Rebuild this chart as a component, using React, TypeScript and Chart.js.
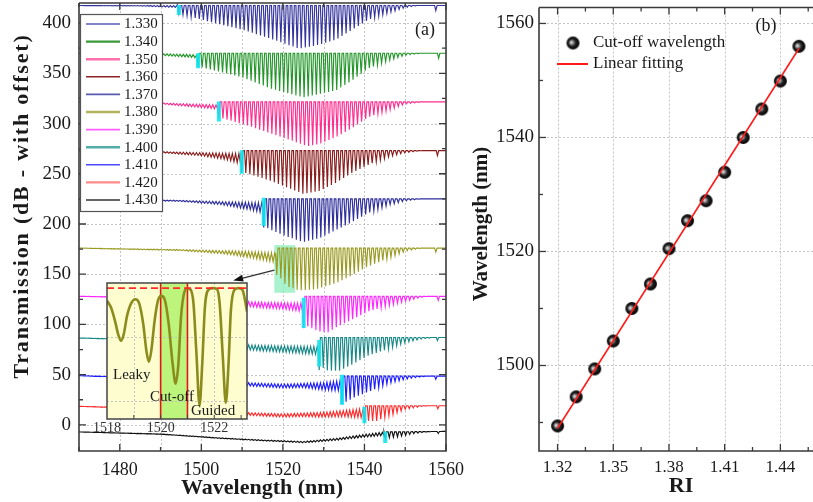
import React, { useEffect, useRef } from 'react';
import { Chart, registerables } from 'chart.js';

Chart.register(...registerables);

const SERIF = '"Liberation Serif", "Times New Roman", Times, serif';

// ---------------- Panel (a) data ----------------
const RI_A = ['1.330', '1.340', '1.350', '1.360', '1.370', '1.380', '1.390', '1.400', '1.410', '1.420', '1.430'];
const COLORS_A = ['#34349e', '#23962a', '#ff2d8f', '#8a1c1c', '#2e2e9c', '#9a9a22', '#ff26ff', '#178888', '#1c1cff', '#ff2a2a', '#111111'];
const LEGEND_COLORS_A = ['#5a5ab8', '#3a9a3a', '#ff6fae', '#8b2525', '#5a5ab0', '#b3b35e', '#ff5cff', '#55aaaa', '#4a4aff', '#ff8a8a', '#333333'];
// wavelength (nm) where the deep guided-mode dips start, per spectrum
const CUTOFF_A = [1494.5, 1499.2, 1504.3, 1509.9, 1515.3, 1518.5, 1525.1, 1528.9, 1534.5, 1540.0, 1545.1];
// upper envelope of each spectrum: [wavelength, dB]
const TOP_A = [
  [[1470, 417.5], [1560, 417.5]],
  [[1470, 370], [1490, 369.5], [1499, 368.5], [1499.3, 370], [1560, 370]],
  [[1470, 321.5], [1490, 320.5], [1504, 318.5], [1504.4, 321.5], [1560, 321.5]],
  [[1470, 273], [1490, 272], [1509.5, 270], [1510, 273], [1560, 273]],
  [[1470, 225], [1495, 223.5], [1515, 221], [1515.4, 225], [1560, 225]],
  [[1470, 176], [1495, 174.5], [1510, 173], [1518.3, 171], [1518.6, 176], [1560, 176]],
  [[1470, 128], [1490, 127], [1505, 124], [1515, 122], [1525, 121], [1525.2, 128], [1560, 128]],
  [[1470, 86.5], [1490, 85], [1505, 81], [1515, 79], [1528.8, 78], [1529, 87], [1560, 87]],
  [[1470, 49], [1490, 47], [1505, 43], [1520, 40.5], [1530, 42], [1534.4, 44], [1534.6, 48.5], [1560, 48.5]],
  [[1470, 18.5], [1490, 16.5], [1505, 13], [1520, 11], [1530, 12.5], [1539.9, 16], [1540.1, 19], [1560, 19]],
  [[1470, -7], [1490, -9], [1505, -13], [1515, -15], [1525, -16.5], [1533, -13.5], [1540, -9.5], [1545, -7], [1560, -6.5]],
];
// depth (dB) of the small leaky-mode ripple before the cut-off
const RIPPLE_A = [
  [[1470, 0], [1485, 0.5], [1494.5, 2]],
  [[1470, 0], [1485, 0.7], [1499, 3]],
  [[1470, 0], [1490, 1], [1504, 4]],
  [[1470, 0], [1490, 1], [1500, 3], [1506, 6], [1509.9, 10]],
  [[1470, 0], [1495, 1], [1505, 3], [1512, 7], [1515.3, 10]],
  [[1470, 0], [1495, 1], [1505, 3], [1512, 6], [1518.5, 9]],
  [[1470, 0], [1490, 1], [1505, 4], [1520, 6], [1525, 8]],
  [[1470, 0], [1490, 1.5], [1505, 4], [1520, 6], [1529, 8]],
  [[1470, 0], [1490, 1.5], [1510, 3], [1525, 4], [1530, 7], [1534.5, 10]],
  [[1470, 0], [1490, 1], [1510, 2.5], [1525, 3.5], [1535, 6], [1540, 9]],
  [[1470, 0], [1500, 0.5], [1520, 1], [1535, 2], [1545, 3.5]],
];
// depth (dB) of the guided-mode dips after the cut-off
const DIPS_A = [
  [[1494.5, 8], [1500, 14], [1510, 24], [1517, 33], [1524, 43], [1529, 39], [1533, 34], [1537, 24], [1541, 14], [1546, 7], [1550, 2], [1553, 0]],
  [[1499, 13], [1510, 24], [1517, 35], [1525, 44], [1533, 37], [1537, 27], [1541, 15], [1546, 7], [1550, 2], [1554, 0]],
  [[1504, 15], [1511, 23], [1519, 34], [1526, 44], [1529, 42], [1533, 35], [1537, 26], [1541, 15], [1546, 8], [1550, 2], [1554, 0]],
  [[1510, 21], [1517, 30], [1525, 43], [1529, 40], [1533, 32], [1537, 22], [1541, 14], [1546, 6], [1550, 2], [1554, 0]],
  [[1515, 27], [1520, 36], [1525, 43], [1529, 39], [1533, 31], [1537, 23], [1541, 14], [1546, 6], [1550, 2], [1554, 0]],
  [[1518.5, 25], [1521, 38], [1524, 42], [1528, 41], [1533, 35], [1537, 27], [1541, 18], [1546, 10], [1550, 3], [1554, 0]],
  [[1525, 28], [1529, 35], [1531, 36], [1533, 31], [1537, 23], [1541, 15], [1546, 9], [1550, 5], [1554, 1], [1556, 0]],
  [[1529, 28], [1531, 33], [1534, 33], [1537, 27], [1541, 18], [1546, 11], [1550, 5], [1554, 1.5], [1557, 0]],
  [[1534.5, 26], [1536, 25], [1537, 22], [1541, 15.5], [1546, 7], [1550, 3], [1554, 0.5], [1556, 0]],
  [[1540, 15], [1543, 15], [1546, 10], [1550, 3.5], [1554, 0.5], [1556, 0]],
  [[1545, 6], [1548, 5], [1552, 2], [1555, 0.5], [1557, 0]],
];
const NOTCH_WL = 1557.8;
const NOTCH_DEPTH = [5, 5, 5, 5, 4, 4, 4, 3, 3, 3, 2];
const RIPPLE_PERIOD = 0.8;
const DIP_PERIOD = 1.0;
const DIP_HALF = 0.3;
// cyan cut-off markers: wavelength, upper and lower dB
const MARK_WL = [1494.5, 1499.2, 1504.3, 1509.9, 1515.3, null, 1525.1, 1528.9, 1534.5, 1540.0, 1545.1];
const MARK_HI = [418, 370, 322, 273.5, 226, null, 126.5, 84.5, 50, 18, -6.5];
const MARK_LO = [408, 355, 302, 250, 198, null, 96.5, 58, 20, 1.7, -18];
const BOX_A = [1517.9, 1523.0, 131.5, 179];
const ARROW_A = [[1517.9, 154], [1507.8, 143.7]];
const X_RANGE_A = [1470, 1560];
const Y_RANGE_A = [-26, 420];
const XTICKS_A = [1480, 1500, 1520, 1540, 1560];
const XMINOR_A = [1470, 1490, 1510, 1530, 1550];
const XGRID_A = [1480, 1490, 1500, 1510, 1520, 1530, 1540, 1550];
const YTICKS_A = [0, 50, 100, 150, 200, 250, 300, 350, 400];
const YMINOR_A = [25, 75, 125, 175, 225, 275, 325, 375];

// ---------------- Inset data ----------------
const INSET_WL = [1518.0, 1518.15, 1518.3, 1518.42, 1518.52, 1518.62, 1518.75, 1518.9, 1519.06, 1519.2, 1519.35, 1519.47, 1519.56, 1519.65, 1519.78, 1519.9, 1520.02, 1520.15, 1520.3, 1520.45, 1520.56, 1520.66, 1520.76, 1520.88, 1521.0, 1521.1, 1521.22, 1521.33, 1521.45, 1521.55, 1521.65, 1521.78, 1521.95, 1522.1, 1522.2, 1522.32, 1522.43, 1522.53, 1522.62, 1522.75, 1522.9, 1523.05, 1523.15, 1523.22];
const INSET_T = [8.7, 8.2, 7.2, 6.2, 5.75, 6.2, 7.6, 8.5, 8.8, 8.5, 7.0, 5.0, 4.2, 5.0, 7.3, 8.7, 9.05, 8.8, 7.0, 4.0, 2.6, 4.0, 7.5, 9.3, 9.6, 9.55, 8.6, 5.0, 1.0, 4.0, 8.2, 9.5, 9.62, 9.55, 8.5, 4.5, 1.2, 4.0, 8.0, 9.5, 9.62, 9.5, 8.7, 7.9];
const INSET_REF = 9.63;
const INSET_X = [1518, 1523.22];
const INSET_BAND = [1520, 1521];
const INSET_TICKS = [1518, 1520, 1522];

// ---------------- Panel (b) data ----------------
const RI_B = [1.32, 1.33, 1.34, 1.35, 1.36, 1.37, 1.38, 1.39, 1.40, 1.41, 1.42, 1.43, 1.44, 1.45];
const CUT_B = [1489.4, 1494.5, 1499.4, 1504.3, 1510.0, 1514.3, 1520.5, 1525.4, 1528.9, 1533.9, 1540.0, 1545.0, 1549.9, 1556.0];
const FIT_RI = [1.32, 1.45];
const FIT_WL = [1489.0, 1555.6];
const X_RANGE_B = [1.31, 1.46];
const Y_RANGE_B = [1485, 1562.8];
const XTICKS_B = [1.32, 1.35, 1.38, 1.41, 1.44];
const XMINOR_B = [1.335, 1.365, 1.395, 1.425, 1.455];
const YTICKS_B = [1500, 1520, 1540, 1560];
const YMINOR_B = [1490, 1510, 1530, 1550];

// ---------------- helpers ----------------
function lerp(knots: number[][], x: number): number {
  if (x <= knots[0][0]) return knots[0][1];
  for (let i = 1; i < knots.length; i++) {
    if (x <= knots[i][0]) {
      const [x0, y0] = knots[i - 1];
      const [x1, y1] = knots[i];
      return y0 + ((y1 - y0) * (x - x0)) / (x1 - x0);
    }
  }
  return knots[knots.length - 1][1];
}

function spectrum(i: number) {
  const top = TOP_A[i];
  const rip = RIPPLE_A[i];
  const dips = DIPS_A[i];
  const cut = CUTOFF_A[i];
  const pts: { x: number; y: number }[] = [];
  for (let l = X_RANGE_A[0]; l < cut - DIP_HALF - 0.2; l += RIPPLE_PERIOD) {
    pts.push({ x: l, y: lerp(top, l) });
    const m = l + RIPPLE_PERIOD / 2;
    pts.push({ x: m, y: lerp(top, m) - lerp(rip, m) });
  }
  for (let c = cut; c <= X_RANGE_A[1] + 0.5; c += DIP_PERIOD) {
    let d = lerp(dips, c);
    if (Math.abs(c - NOTCH_WL) < DIP_PERIOD / 2) d += NOTCH_DEPTH[i];
    pts.push({ x: c - DIP_HALF, y: lerp(top, c - DIP_HALF) });
    pts.push({ x: c, y: lerp(top, c) - d });
    pts.push({ x: c + DIP_HALF, y: lerp(top, c + DIP_HALF) });
  }
  return pts;
}

function makeBall(r: number) {
  const c = document.createElement('canvas');
  const s = Math.ceil(r * 2 + 2);
  c.width = s;
  c.height = s;
  const g = c.getContext('2d')!;
  const cx = s / 2;
  const cy = s / 2;
  const grad = g.createRadialGradient(cx - r * 0.3, cy - r * 0.1, 0, cx, cy, r);
  grad.addColorStop(0, '#f2f2f2');
  grad.addColorStop(0.25, '#9a9a9a');
  grad.addColorStop(0.55, '#222222');
  grad.addColorStop(1, '#000000');
  g.fillStyle = grad;
  g.beginPath();
  g.arc(cx, cy, r, 0, Math.PI * 2);
  g.fill();
  return c;
}

function dashedGrid(ctx: CanvasRenderingContext2D, chart: any, xs: number[], ys: number[]) {
  const a = chart.chartArea;
  const sx = chart.scales.x;
  const sy = chart.scales.y;
  ctx.save();
  ctx.strokeStyle = '#c4c4c4';
  ctx.lineWidth = 1;
  ctx.setLineDash([2, 2]);
  xs.forEach((v) => {
    const px = Math.round(sx.getPixelForValue(v)) + 0.5;
    ctx.beginPath();
    ctx.moveTo(px, a.top);
    ctx.lineTo(px, a.bottom);
    ctx.stroke();
  });
  ys.forEach((v) => {
    const py = Math.round(sy.getPixelForValue(v)) + 0.5;
    ctx.beginPath();
    ctx.moveTo(a.left, py);
    ctx.lineTo(a.right, py);
    ctx.stroke();
  });
  ctx.restore();
}

function frameAndTicks(ctx: CanvasRenderingContext2D, chart: any, xMaj: number[], xMin: number[], yMaj: number[], yMin: number[], sides: { right: boolean }) {
  const a = chart.chartArea;
  const sx = chart.scales.x;
  const sy = chart.scales.y;
  ctx.save();
  ctx.strokeStyle = '#3a3a3a';
  ctx.lineWidth = 1.6;
  ctx.beginPath();
  ctx.moveTo(a.left, a.top);
  ctx.lineTo(a.right, a.top);
  if (sides.right) ctx.lineTo(a.right, a.bottom);
  else ctx.moveTo(a.right, a.bottom);
  ctx.lineTo(a.left, a.bottom);
  ctx.lineTo(a.left, a.top);
  ctx.stroke();
  ctx.lineWidth = 1.3;
  const tx = (vals: number[], len: number) =>
    vals.forEach((v) => {
      const px = sx.getPixelForValue(v);
      ctx.beginPath();
      ctx.moveTo(px, a.bottom);
      ctx.lineTo(px, a.bottom - len);
      ctx.moveTo(px, a.top);
      ctx.lineTo(px, a.top + len);
      ctx.stroke();
    });
  const ty = (vals: number[], len: number) =>
    vals.forEach((v) => {
      const py = sy.getPixelForValue(v);
      ctx.beginPath();
      ctx.moveTo(a.left, py);
      ctx.lineTo(a.left + len, py);
      if (sides.right) {
        ctx.moveTo(a.right, py);
        ctx.lineTo(a.right - len, py);
      }
      ctx.stroke();
    });
  tx(xMaj, 7);
  tx(xMin, 4);
  ty(yMaj, 7);
  ty(yMin, 4);
  ctx.restore();
}

function text(ctx: CanvasRenderingContext2D, s: string, x: number, y: number, font: string, align: CanvasTextAlign = 'center', rotate = false, spacing = '0px') {
  ctx.save();
  ctx.font = font;
  ctx.fillStyle = '#1a1a1a';
  ctx.textAlign = align;
  ctx.textBaseline = 'middle';
  (ctx as any).letterSpacing = spacing;
  ctx.translate(x, y);
  if (rotate) ctx.rotate(-Math.PI / 2);
  ctx.fillText(s, 0, 0);
  ctx.restore();
}

const numTick = (v: any) => String(v);

// ---------------- chart builders ----------------
function buildA(canvas: HTMLCanvasElement) {
  const spectra = RI_A.map((label, i) => ({
    label,
    data: spectrum(i),
    borderColor: COLORS_A[i],
    borderWidth: 1.15,
    pointRadius: 0,
    fill: false,
    order: 2,
  }));
  const markers = MARK_WL.map((wl, i) =>
    wl === null
      ? null
      : {
          label: 'cut-off ' + RI_A[i],
          data: [
            { x: wl, y: MARK_HI[i] as number },
            { x: wl, y: MARK_LO[i] as number },
          ],
          borderColor: 'rgba(20, 228, 240, 0.9)',
          borderWidth: 4,
          pointRadius: 0,
          fill: false,
          order: 1,
        }
  ).filter(Boolean) as any[];

  const plug = {
    id: 'panelA',
    beforeDatasetsDraw(chart: any) {
      const ctx = chart.ctx;
      dashedGrid(ctx, chart, XGRID_A, YTICKS_A);
      const sx = chart.scales.x;
      const sy = chart.scales.y;
      const x0 = sx.getPixelForValue(BOX_A[0]);
      const x1 = sx.getPixelForValue(BOX_A[1]);
      const y0 = sy.getPixelForValue(BOX_A[3]);
      const y1 = sy.getPixelForValue(BOX_A[2]);
      ctx.save();
      ctx.fillStyle = 'rgba(140, 238, 190, 0.75)';
      ctx.fillRect(x0, y0, x1 - x0, y1 - y0);
      ctx.restore();
    },
    afterDatasetsDraw(chart: any) {
      const ctx = chart.ctx;
      const sx = chart.scales.x;
      const sy = chart.scales.y;
      frameAndTicks(ctx, chart, XTICKS_A, XMINOR_A, YTICKS_A, YMINOR_A, { right: true });
      // legend
      ctx.save();
      ctx.fillStyle = '#ffffff';
      ctx.fillRect(80, 14, 82, 197);
      ctx.strokeStyle = '#555';
      ctx.lineWidth = 1.2;
      ctx.strokeRect(80.5, 14.5, 82, 197);
      RI_A.forEach((lab, i) => {
        const y = 24 + i * 17.6;
        ctx.strokeStyle = LEGEND_COLORS_A[i];
        ctx.lineWidth = [1, 2, 5, 7, 9].includes(i) ? 2.4 : 1.6;
        ctx.beginPath();
        ctx.moveTo(86, y);
        ctx.lineTo(120, y);
        ctx.stroke();
        text(ctx, lab, 124, y + 0.5, `15px ${SERIF}`, 'left');
      });
      ctx.restore();
      // arrow
      const ax0 = sx.getPixelForValue(ARROW_A[0][0]);
      const ay0 = sy.getPixelForValue(ARROW_A[0][1]);
      const ax1 = sx.getPixelForValue(ARROW_A[1][0]);
      const ay1 = sy.getPixelForValue(ARROW_A[1][1]);
      const ang = Math.atan2(ay1 - ay0, ax1 - ax0);
      ctx.save();
      ctx.strokeStyle = '#333';
      ctx.fillStyle = '#111';
      ctx.lineWidth = 1.3;
      ctx.beginPath();
      ctx.moveTo(ax0, ay0);
      ctx.lineTo(ax1 - 6 * Math.cos(ang), ay1 - 6 * Math.sin(ang));
      ctx.stroke();
      ctx.beginPath();
      ctx.moveTo(ax1, ay1);
      ctx.lineTo(ax1 - 10 * Math.cos(ang) + 3.5 * Math.sin(ang), ay1 - 10 * Math.sin(ang) - 3.5 * Math.cos(ang));
      ctx.lineTo(ax1 - 10 * Math.cos(ang) - 3.5 * Math.sin(ang), ay1 - 10 * Math.sin(ang) + 3.5 * Math.cos(ang));
      ctx.closePath();
      ctx.fill();
      ctx.restore();
      text(ctx, '(a)', 425, 30, `18px ${SERIF}`);
    },
    afterDraw(chart: any) {
      const ctx = chart.ctx;
      text(ctx, 'Transmission (dB - with offset)', 22, 206, `bold 22px ${SERIF}`, 'center', true, '1.8px');
      text(ctx, 'Wavelength (nm)', 262, 488, `bold 22px ${SERIF}`);
    },
  };

  return new Chart(canvas, {
    type: 'line',
    data: { datasets: [...spectra, ...markers] },
    options: {
      animation: false,
      responsive: false,
      devicePixelRatio: 1,
      layout: { padding: { left: 0, right: 24, top: 3, bottom: 0 } },
      plugins: { legend: { display: false }, tooltip: { enabled: false } },
      elements: { line: { tension: 0 }, point: { radius: 0 } },
      scales: {
        x: {
          type: 'linear',
          min: X_RANGE_A[0],
          max: X_RANGE_A[1],
          grid: { display: false, drawTicks: false },
          border: { display: false },
          ticks: { font: { family: SERIF, size: 18 }, color: '#1a1a1a', padding: 8, maxRotation: 0, autoSkip: false, callback: numTick },
          afterBuildTicks: (s: any) => {
            s.ticks = XTICKS_A.map((v) => ({ value: v }));
          },
          afterFit: (s: any) => {
            s.height = 51;
            s.paddingLeft = 0;
            s.paddingRight = 0;
          },
        },
        y: {
          type: 'linear',
          min: Y_RANGE_A[0],
          max: Y_RANGE_A[1],
          grid: { display: false, drawTicks: false },
          border: { display: false },
          ticks: { font: { family: SERIF, size: 19 }, color: '#1a1a1a', padding: 8, autoSkip: false, callback: numTick },
          afterBuildTicks: (s: any) => {
            s.ticks = YTICKS_A.map((v) => ({ value: v }));
          },
          afterFit: (s: any) => {
            s.width = 79;
            s.paddingTop = 0;
            s.paddingBottom = 0;
          },
        },
      },
    } as any,
    plugins: [plug],
  });
}

function buildInset(canvas: HTMLCanvasElement) {
  const plug = {
    id: 'inset',
    beforeDatasetsDraw(chart: any) {
      const ctx = chart.ctx;
      const a = chart.chartArea;
      const sx = chart.scales.x;
      ctx.save();
      ctx.fillStyle = '#fdfdcf';
      ctx.fillRect(a.left, a.top, a.right - a.left, a.bottom - a.top);
      const b0 = sx.getPixelForValue(INSET_BAND[0]);
      const b1 = sx.getPixelForValue(INSET_BAND[1]);
      ctx.fillStyle = '#bdf57c';
      ctx.fillRect(b0, a.top, b1 - b0, a.bottom - a.top);
      ctx.restore();
      dashedGrid(ctx, chart, [1519, 1522], [1.3, 6.0]);
      ctx.save();
      ctx.strokeStyle = '#e01818';
      ctx.lineWidth = 1.6;
      [b0, b1].forEach((px) => {
        ctx.beginPath();
        ctx.moveTo(px, a.top);
        ctx.lineTo(px, a.bottom);
        ctx.stroke();
      });
      ctx.restore();
    },
    afterDatasetsDraw(chart: any) {
      const ctx = chart.ctx;
      const a = chart.chartArea;
      const sx = chart.scales.x;
      ctx.save();
      ctx.strokeStyle = '#444';
      ctx.lineWidth = 1.5;
      ctx.strokeRect(a.left, a.top, a.right - a.left, a.bottom - a.top);
      ctx.lineWidth = 1;
      [1519, 1520, 1521, 1522, 1523].forEach((v) => {
        const px = sx.getPixelForValue(v);
        ctx.beginPath();
        ctx.moveTo(px, a.bottom);
        ctx.lineTo(px, a.bottom - 4);
        ctx.stroke();
      });
      ctx.restore();
      text(ctx, 'Leaky', 28, 99, `15px ${SERIF}`, 'left');
      text(ctx, 'Cut-off', 65, 121, `15px ${SERIF}`, 'left');
      text(ctx, 'Guided', 106, 135, `15px ${SERIF}`, 'left');
    },
  };
  return new Chart(canvas, {
    type: 'line',
    data: {
      datasets: [
        {
          label: 'ref',
          data: INSET_X.map((x) => ({ x, y: INSET_REF })),
          borderColor: '#ff2a2a',
          borderDash: [7, 4],
          borderWidth: 1.8,
          pointRadius: 0,
          fill: false,
        },
        {
          label: 'inset',
          data: INSET_WL.map((x, i) => ({ x, y: INSET_T[i] })),
          borderColor: '#8c8c1e',
          borderWidth: 2.6,
          pointRadius: 0,
          fill: false,
          cubicInterpolationMode: 'monotone',
        },
      ],
    },
    options: {
      animation: false,
      responsive: false,
      devicePixelRatio: 1,
      layout: { padding: { left: 22, right: 13, top: 7, bottom: 0 } },
      plugins: { legend: { display: false }, tooltip: { enabled: false } },
      scales: {
        x: {
          type: 'linear',
          min: INSET_X[0],
          max: INSET_X[1],
          grid: { display: false, drawTicks: false },
          border: { display: false },
          ticks: { font: { family: SERIF, size: 14 }, color: '#333', padding: 1, maxRotation: 0, autoSkip: false, callback: numTick },
          afterBuildTicks: (s: any) => {
            s.ticks = INSET_TICKS.map((v) => ({ value: v }));
          },
          afterFit: (s: any) => {
            s.height = 22;
            s.paddingLeft = 0;
            s.paddingRight = 0;
          },
        },
        y: { display: false, min: 0, max: 10 },
      },
    } as any,
    plugins: [plug],
  });
}

function buildB(canvas: HTMLCanvasElement) {
  const ball = makeBall(6.5);
  const plug = {
    id: 'panelB',
    beforeDatasetsDraw(chart: any) {
      dashedGrid(chart.ctx, chart, XTICKS_B, YTICKS_B);
    },
    afterDatasetsDraw(chart: any) {
      const ctx = chart.ctx;
      frameAndTicks(ctx, chart, XTICKS_B, XMINOR_B, YTICKS_B, YMINOR_B, { right: false });
      ctx.drawImage(ball, 113 - ball.width / 2, 43 - ball.height / 2);
      text(ctx, 'Cut-off wavelength', 133, 43, `17px ${SERIF}`, 'left');
      ctx.save();
      ctx.strokeStyle = '#ff1a1a';
      ctx.lineWidth = 2;
      ctx.beginPath();
      ctx.moveTo(97, 64);
      ctx.lineTo(128, 64);
      ctx.stroke();
      ctx.restore();
      text(ctx, 'Linear fitting', 133, 64, `17px ${SERIF}`, 'left');
      text(ctx, '(b)', 306, 26, `18px ${SERIF}`);
    },
    afterDraw(chart: any) {
      const ctx = chart.ctx;
      text(ctx, 'Wavelength (nm)', 22, 224, `bold 21px ${SERIF}`, 'center', true);
      text(ctx, 'RI', 221, 486, `bold 22px ${SERIF}`);
    },
  };
  return new Chart(canvas, {
    type: 'scatter',
    data: {
      datasets: [
        {
          label: 'Linear fitting',
          data: FIT_RI.map((x, i) => ({ x, y: FIT_WL[i] })),
          showLine: true,
          borderColor: '#ff1a1a',
          borderWidth: 1.6,
          pointRadius: 0,
          fill: false,
        },
        {
          label: 'Cut-off wavelength',
          data: RI_B.map((x, i) => ({ x, y: CUT_B[i] })),
          pointStyle: ball,
          pointRadius: 6.5,
          showLine: false,
        },
      ],
    },
    options: {
      animation: false,
      responsive: false,
      devicePixelRatio: 1,
      layout: { padding: { left: 0, right: 4.5, top: 3, bottom: 0 } },
      plugins: { legend: { display: false }, tooltip: { enabled: false } },
      scales: {
        x: {
          type: 'linear',
          min: X_RANGE_B[0],
          max: X_RANGE_B[1],
          grid: { display: false, drawTicks: false },
          border: { display: false },
          ticks: { font: { family: SERIF, size: 17 }, color: '#1a1a1a', padding: 6, maxRotation: 0, autoSkip: false, callback: (v: any) => Number(v).toFixed(2) },
          afterBuildTicks: (s: any) => {
            s.ticks = XTICKS_B.map((v) => ({ value: v }));
          },
          afterFit: (s: any) => {
            s.height = 51;
            s.paddingLeft = 0;
            s.paddingRight = 0;
          },
        },
        y: {
          type: 'linear',
          min: Y_RANGE_B[0],
          max: Y_RANGE_B[1],
          grid: { display: false, drawTicks: false },
          border: { display: false },
          ticks: { font: { family: SERIF, size: 19 }, color: '#1a1a1a', padding: 5, autoSkip: false, callback: numTick },
          afterBuildTicks: (s: any) => {
            s.ticks = YTICKS_B.map((v) => ({ value: v }));
          },
          afterFit: (s: any) => {
            s.width = 79;
            s.paddingTop = 0;
            s.paddingBottom = 0;
          },
        },
      },
    } as any,
    plugins: [plug],
  });
}

export default function App() {
  const aRef = useRef<HTMLCanvasElement>(null);
  const bRef = useRef<HTMLCanvasElement>(null);
  const iRef = useRef<HTMLCanvasElement>(null);

  useEffect(() => {
    const charts = [buildA(aRef.current!), buildB(bRef.current!), buildInset(iRef.current!)];
    return () => charts.forEach((c) => c.destroy());
  }, []);

  return (
    <div style={{ position: 'fixed', left: 0, top: 0, width: 813, height: 502, overflow: 'hidden', background: '#ffffff' }}>
      <canvas ref={aRef} width={470} height={502} style={{ position: 'absolute', left: 0, top: 0, width: 470, height: 502 }} />
      <canvas ref={bRef} width={365} height={502} style={{ position: 'absolute', left: 460, top: 0, width: 365, height: 502 }} />
      <canvas ref={iRef} width={175} height={165} style={{ position: 'absolute', left: 85, top: 276, width: 175, height: 165 }} />
    </div>
  );
}
